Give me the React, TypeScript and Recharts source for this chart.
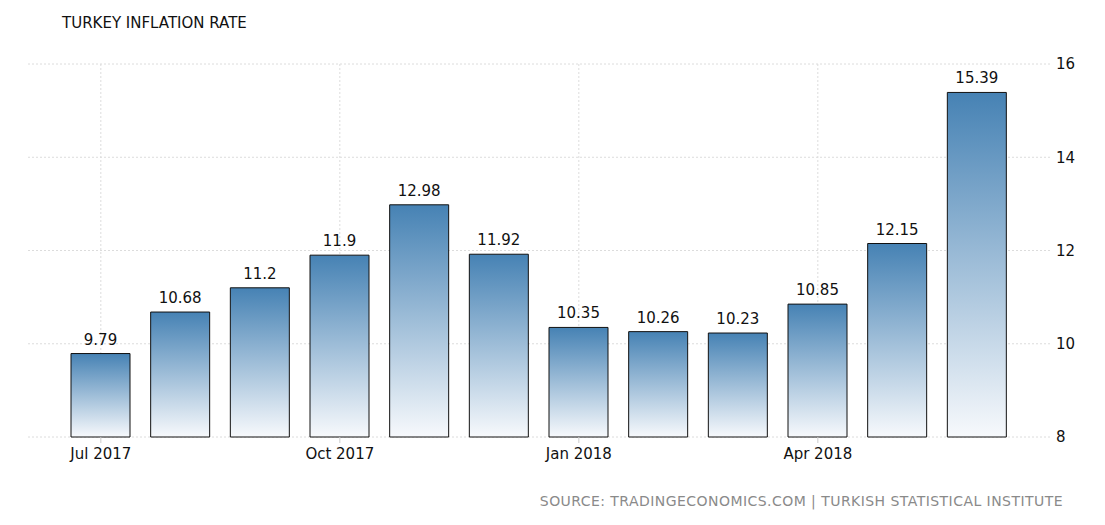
import React from "react";
import { BarChart, Bar, XAxis, YAxis, CartesianGrid, LabelList } from "recharts";

const months = ["Jul 2017", "Aug 2017", "Sep 2017", "Oct 2017", "Nov 2017", "Dec 2017", "Jan 2018", "Feb 2018", "Mar 2018", "Apr 2018", "May 2018", "Jun 2018"];
const inflation = [9.79, 10.68, 11.2, 11.9, 12.98, 11.92, 10.35, 10.26, 10.23, 10.85, 12.15, 15.39];
const yTicks = [8, 10, 12, 14, 16];

const data = months.map((m, i) => ({ month: m, value: inflation[i] }));

const FONT = "'DejaVu Sans', Tahoma, Verdana, sans-serif";

export default function App() {
  return (
    <div style={{ position: "absolute", left: 0, top: 0, width: 1105, height: 525, background: "#fff", fontFamily: FONT }}>
      <div style={{ position: "absolute", left: 62, top: 14, fontSize: 15, color: "#111", whiteSpace: "nowrap" }}>
        TURKEY INFLATION RATE
      </div>
      <BarChart
        width={1105}
        height={525}
        data={data}
        margin={{ top: 64, right: 0, bottom: 58, left: 28 }}
      >
        <defs>
          <linearGradient id="barGrad" x1="0" y1="0" x2="0" y2="1">
            <stop offset="0%" stopColor="#4682B4" />
            <stop offset="100%" stopColor="#F7F9FC" />
          </linearGradient>
        </defs>
        <CartesianGrid stroke="#dcdcdc" strokeDasharray="2 2" syncWithTicks />
        <XAxis
          dataKey="month"
          interval={2}
          axisLine={false}
          tickLine={{ stroke: "#cccccc" }}
          tickSize={6}
          tickMargin={5}
          padding={{ left: 33, right: 34 }}
          height={30}
          tick={{ fontSize: 15, fill: "#111", fontFamily: FONT }}
        />
        <YAxis
          orientation="right"
          domain={[8, 16]}
          ticks={yTicks}
          axisLine={false}
          tickLine={false}
          tickSize={3}
          tickMargin={2}
          width={54}
          tick={{ fontSize: 15, fill: "#111", fontFamily: FONT, textAnchor: "start" }}
        />
        <Bar dataKey="value" barSize={59} fill="url(#barGrad)" stroke="#111" strokeWidth={1} isAnimationActive={false}>
          <LabelList dataKey="value" position="top" offset={9} style={{ fontSize: 15, fill: "#111", fontFamily: FONT }} />
        </Bar>
      </BarChart>
      <div style={{ position: "absolute", right: 42, top: 493, fontSize: 14, color: "#8a8a8a", whiteSpace: "nowrap", letterSpacing: 0.45 }}>
        SOURCE: TRADINGECONOMICS.COM | TURKISH STATISTICAL INSTITUTE
      </div>
    </div>
  );
}
